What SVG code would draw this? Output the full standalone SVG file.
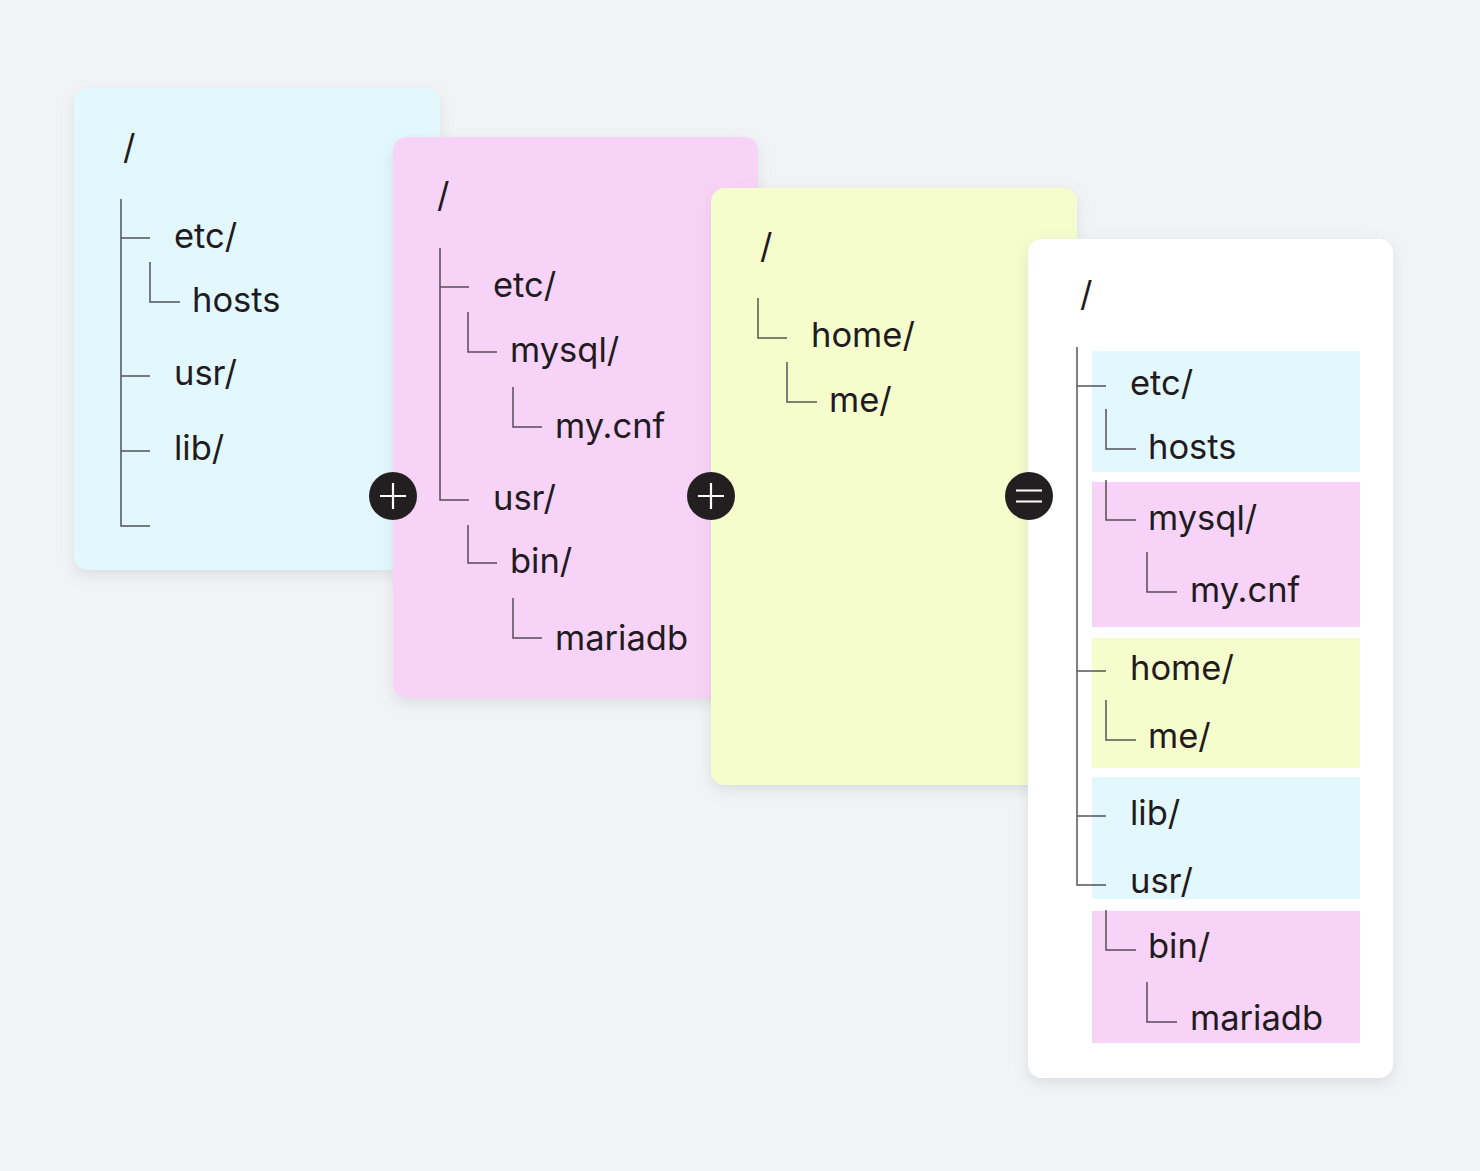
<svg xmlns="http://www.w3.org/2000/svg" width="1480" height="1171" viewBox="0 0 1480 1171">
<defs>
<filter id="sh" x="-10%" y="-10%" width="120%" height="120%">
<feDropShadow dx="0" dy="5" stdDeviation="7" flood-color="#8a9099" flood-opacity="0.22"/>
</filter>
<style>
.t{font-family:Inter,"Noto Sans","Liberation Sans",sans-serif;font-size:34.5px;fill:#1f1b20}
.ln{fill:none;stroke:#2c2a30;stroke-opacity:0.8;stroke-width:1.5}
.op{fill:#231f20}
.sym{stroke:#fff;stroke-width:2.2;fill:none}
.cy{fill:#e2f8fc}.pk{fill:#f8d3f8}.yl{fill:#f5fdcc}.wh{fill:#fff}
</style>
</defs>
<rect width="1480" height="1171" fill="#f2f3f5"/>
<g id="card1">
<rect class="cy" x="74" y="88" width="366" height="482" rx="14" filter="url(#sh)"/>
<text class="t" x="123" y="159">/</text>
<text class="t" x="174" y="248">etc/</text>
<text class="t" x="192" y="312">hosts</text>
<text class="t" x="174" y="385">usr/</text>
<text class="t" x="174" y="460">lib/</text>
</g>
<g id="card2">
<rect class="pk" x="393" y="137" width="365" height="561" rx="14" filter="url(#sh)"/>
<text class="t" x="437" y="207">/</text>
<text class="t" x="493" y="297">etc/</text>
<text class="t" x="510" y="362">mysql/</text>
<text class="t" x="555" y="438">my.cnf</text>
<text class="t" x="493" y="510">usr/</text>
<text class="t" x="510" y="573">bin/</text>
<text class="t" x="555" y="650">mariadb</text>
</g>
<g id="card3">
<rect class="yl" x="711" y="188" width="366" height="597" rx="14" filter="url(#sh)"/>
<text class="t" x="760" y="258">/</text>
<text class="t" x="811" y="347">home/</text>
<text class="t" x="829" y="412">me/</text>
</g>
<g id="card4">
<rect class="wh" x="1028" y="239" width="365" height="839" rx="14" filter="url(#sh)"/>
<rect class="cy" x="1092" y="351" width="268" height="121"/>
<rect class="pk" x="1092" y="482" width="268" height="145"/>
<rect class="yl" x="1092" y="638" width="268" height="130"/>
<rect class="cy" x="1092" y="777" width="268" height="122"/>
<rect class="pk" x="1092" y="911" width="268" height="132"/>
<text class="t" x="1080" y="306">/</text>
<text class="t" x="1130" y="395">etc/</text>
<text class="t" x="1148" y="459">hosts</text>
<text class="t" x="1148" y="530">mysql/</text>
<text class="t" x="1190" y="602">my.cnf</text>
<text class="t" x="1130" y="680">home/</text>
<text class="t" x="1148" y="748">me/</text>
<text class="t" x="1130" y="825">lib/</text>
<text class="t" x="1130" y="893">usr/</text>
<text class="t" x="1148" y="958">bin/</text>
<text class="t" x="1190" y="1030">mariadb</text>
</g>
<g id="connectors">
<path class="ln" d="M121 199V526H150M121 238H150M121 376H150M121 451H150M150 262V302H180"/>
<path class="ln" d="M440 248V500H469M440 287H469M468 312V352H497M513 387V427H542M468 525V563H497M513 598V638H542"/>
<path class="ln" d="M758 298V338H787M787 362V402H817"/>
<path class="ln" d="M1077 347V885H1106M1077 386H1106M1077 671H1106M1077 816H1106M1106 409V449H1136M1106 480V520H1136M1147 552V592H1177M1106 700V740H1136M1106 910V950H1136M1147 982V1022H1177"/>
</g>
<g id="plus1">
<circle class="op" cx="393" cy="496" r="24"/>
<path class="sym" d="M380 496H406M393 483V509"/>
</g>
<g id="plus2">
<circle class="op" cx="711" cy="496" r="24"/>
<path class="sym" d="M698 496H724M711 483V509"/>
</g>
<g id="equals">
<circle class="op" cx="1029" cy="496" r="24"/>
<path class="sym" d="M1016 490.5H1042M1016 501.5H1042"/>
</g>
</svg>
